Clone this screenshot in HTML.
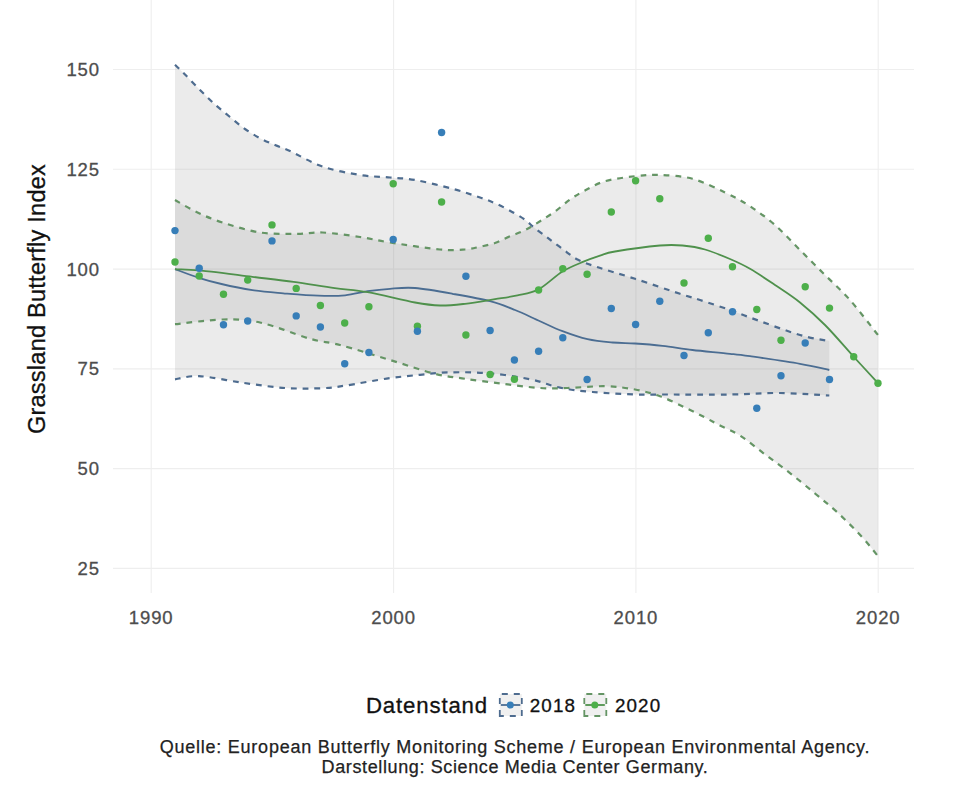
<!DOCTYPE html>
<html><head><meta charset="utf-8"><style>
html,body{margin:0;padding:0;background:#fff;width:971px;height:800px;overflow:hidden;position:relative;font-family:"Liberation Sans",sans-serif;}
.yl{position:absolute;right:871px;font-size:18.5px;color:#4d4d4d;line-height:1;letter-spacing:0.9px;white-space:nowrap;-webkit-text-stroke:0.3px #4d4d4d}
.xl{position:absolute;font-size:18.5px;color:#4d4d4d;line-height:1;letter-spacing:0.9px;white-space:nowrap;width:80px;text-align:center;-webkit-text-stroke:0.3px #4d4d4d}
</style></head><body>
<svg width="971" height="800" style="position:absolute;left:0;top:0"><line x1="113" y1="69.5" x2="914" y2="69.5" stroke="#eeeeee" stroke-width="1.1"/><line x1="113" y1="169.3" x2="914" y2="169.3" stroke="#eeeeee" stroke-width="1.1"/><line x1="113" y1="269.1" x2="914" y2="269.1" stroke="#eeeeee" stroke-width="1.1"/><line x1="113" y1="368.9" x2="914" y2="368.9" stroke="#eeeeee" stroke-width="1.1"/><line x1="113" y1="468.6" x2="914" y2="468.6" stroke="#eeeeee" stroke-width="1.1"/><line x1="113" y1="568.4" x2="914" y2="568.4" stroke="#eeeeee" stroke-width="1.1"/><line x1="151.2" y1="0" x2="151.2" y2="593" stroke="#eeeeee" stroke-width="1.1"/><line x1="393.6" y1="0" x2="393.6" y2="593" stroke="#eeeeee" stroke-width="1.1"/><line x1="635.9" y1="0" x2="635.9" y2="593" stroke="#eeeeee" stroke-width="1.1"/><line x1="878.2" y1="0" x2="878.2" y2="593" stroke="#eeeeee" stroke-width="1.1"/><path d="M175.0,64.7 C176.7,66.3 180.8,70.3 185.0,74.5 C189.2,78.7 195.0,85.0 200.0,90.0 C205.0,95.0 210.0,100.0 215.0,104.5 C220.0,109.0 225.0,112.9 230.0,117.0 C235.0,121.1 240.0,125.5 245.0,129.0 C250.0,132.5 255.0,135.5 260.0,138.2 C265.0,140.9 270.0,142.9 275.0,145.0 C280.0,147.1 282.1,147.4 290.0,151.0 C297.9,154.6 310.8,162.5 322.5,166.5 C334.2,170.5 348.8,173.2 360.0,175.0 C371.2,176.8 380.8,176.7 390.0,177.5 C399.2,178.3 404.6,178.1 415.0,180.0 C425.4,181.9 441.4,185.8 452.5,188.8 C463.6,191.8 474.4,195.6 481.5,198.0 C488.6,200.4 490.2,201.1 495.0,203.2 C499.8,205.3 505.0,207.9 510.0,210.7 C515.0,213.4 521.0,216.9 525.0,219.7 C529.0,222.5 530.2,224.5 534.0,227.5 C537.8,230.5 542.8,234.1 547.5,237.7 C552.2,241.3 557.5,245.4 562.5,249.0 C567.5,252.6 571.8,256.5 577.5,259.5 C583.2,262.5 587.4,263.8 597.0,267.0 C606.6,270.2 621.2,274.3 635.0,278.8 C648.8,283.2 669.2,290.2 680.0,293.8 C690.8,297.3 691.7,297.3 700.0,300.0 C708.3,302.7 721.7,307.1 730.0,310.0 C738.3,312.9 738.3,313.3 750.0,317.5 C761.7,321.7 786.8,331.1 800.0,335.0 C813.2,338.9 824.4,340.0 829.3,341.0 L829.3,395.5 C821.1,395.1 796.5,393.2 780.0,393.0 C763.5,392.8 748.8,394.2 730.0,394.5 C711.2,394.8 683.3,394.5 667.5,394.5 C651.7,394.5 647.5,394.9 635.0,394.5 C622.5,394.1 605.0,393.1 592.5,392.0 C580.0,390.9 570.3,389.8 560.0,387.7 C549.7,385.6 542.5,381.8 530.8,379.4 C519.1,377.0 503.3,374.5 489.6,373.3 C475.9,372.1 460.0,372.1 448.4,372.4 C436.8,372.6 430.3,373.8 420.0,374.8 C409.7,375.8 399.0,376.8 386.6,378.6 C374.2,380.4 356.1,384.0 345.4,385.6 C334.7,387.2 332.6,387.8 322.5,388.2 C312.4,388.6 298.4,388.9 285.0,388.0 C271.6,387.1 256.7,384.7 242.4,382.7 C228.1,380.7 210.2,376.7 199.0,376.1 C187.8,375.6 179.0,378.8 175.0,379.4 Z" fill="rgba(153,153,153,0.2)"/><path d="M175.0,200.0 C178.8,202.1 189.6,208.8 197.5,212.5 C205.4,216.2 212.1,219.2 222.5,222.5 C232.9,225.8 247.5,230.6 260.0,232.5 C272.5,234.4 287.1,233.8 297.5,233.8 C307.9,233.8 312.1,232.0 322.5,232.5 C332.9,233.0 348.8,235.3 360.0,237.0 C371.2,238.7 376.7,240.4 390.0,242.5 C403.3,244.6 427.5,248.3 440.0,249.5 C452.5,250.7 458.3,250.0 465.0,249.5 C471.7,249.0 475.0,247.8 480.0,246.7 C485.0,245.6 490.0,244.8 495.0,243.0 C500.0,241.2 505.0,238.3 510.0,236.2 C515.0,234.1 520.0,232.7 525.0,230.2 C530.0,227.7 535.0,224.3 540.0,221.2 C545.0,218.1 550.0,215.1 555.0,211.5 C560.0,207.9 565.0,203.0 570.0,199.5 C575.0,196.0 579.2,193.5 585.0,190.5 C590.8,187.5 596.7,183.6 605.0,181.2 C613.3,178.9 625.8,177.3 635.0,176.2 C644.2,175.2 650.4,174.6 660.0,175.0 C669.6,175.4 681.7,175.8 692.5,178.8 C703.3,181.7 715.4,187.9 725.0,192.5 C734.6,197.1 741.7,200.8 750.0,206.2 C758.3,211.7 766.7,217.7 775.0,225.0 C783.3,232.3 791.7,241.7 800.0,250.0 C808.3,258.3 816.7,266.7 825.0,275.0 C833.3,283.3 841.2,290.0 850.0,300.0 C858.8,310.0 873.3,329.2 878.0,335.0 L878.0,556.2 C875.4,553.1 869.2,544.8 862.5,537.5 C855.8,530.2 845.4,519.8 837.5,512.5 C829.6,505.2 822.9,500.1 815.0,493.5 C807.1,486.9 798.3,479.6 790.0,473.1 C781.7,466.6 773.3,460.6 765.0,454.4 C756.7,448.1 747.5,440.4 740.0,435.6 C732.5,430.8 725.8,428.5 720.0,425.5 C714.2,422.5 710.8,420.5 705.0,417.5 C699.2,414.5 692.5,411.0 685.0,407.5 C677.5,404.0 668.3,399.2 660.0,396.2 C651.7,393.2 644.2,391.2 635.0,389.5 C625.8,387.8 616.2,386.5 605.0,386.2 C593.8,386.0 578.3,387.7 567.5,388.0 C556.7,388.3 550.8,388.7 540.0,388.0 C529.2,387.3 515.0,385.3 502.5,383.8 C490.0,382.2 476.2,380.4 465.0,378.8 C453.8,377.1 447.5,376.9 435.0,373.8 C422.5,370.6 405.8,364.8 390.0,360.0 C374.2,355.2 353.3,348.5 340.0,345.0 C326.7,341.5 323.3,342.5 310.0,338.8 C296.7,335.0 274.6,325.7 260.0,322.5 C245.4,319.3 236.7,319.2 222.5,319.5 C208.3,319.8 182.9,323.5 175.0,324.2 Z" fill="rgba(153,153,153,0.2)"/><path d="M175.0,64.7 C176.7,66.3 180.8,70.3 185.0,74.5 C189.2,78.7 195.0,85.0 200.0,90.0 C205.0,95.0 210.0,100.0 215.0,104.5 C220.0,109.0 225.0,112.9 230.0,117.0 C235.0,121.1 240.0,125.5 245.0,129.0 C250.0,132.5 255.0,135.5 260.0,138.2 C265.0,140.9 270.0,142.9 275.0,145.0 C280.0,147.1 282.1,147.4 290.0,151.0 C297.9,154.6 310.8,162.5 322.5,166.5 C334.2,170.5 348.8,173.2 360.0,175.0 C371.2,176.8 380.8,176.7 390.0,177.5 C399.2,178.3 404.6,178.1 415.0,180.0 C425.4,181.9 441.4,185.8 452.5,188.8 C463.6,191.8 474.4,195.6 481.5,198.0 C488.6,200.4 490.2,201.1 495.0,203.2 C499.8,205.3 505.0,207.9 510.0,210.7 C515.0,213.4 521.0,216.9 525.0,219.7 C529.0,222.5 530.2,224.5 534.0,227.5 C537.8,230.5 542.8,234.1 547.5,237.7 C552.2,241.3 557.5,245.4 562.5,249.0 C567.5,252.6 571.8,256.5 577.5,259.5 C583.2,262.5 587.4,263.8 597.0,267.0 C606.6,270.2 621.2,274.3 635.0,278.8 C648.8,283.2 669.2,290.2 680.0,293.8 C690.8,297.3 691.7,297.3 700.0,300.0 C708.3,302.7 721.7,307.1 730.0,310.0 C738.3,312.9 738.3,313.3 750.0,317.5 C761.7,321.7 786.8,331.1 800.0,335.0 C813.2,338.9 824.4,340.0 829.3,341.0" fill="none" stroke="#4e6c8f" stroke-width="2.2" stroke-dasharray="5.8 5.9"/><path d="M175.0,379.4 C179.0,378.8 187.8,375.6 199.0,376.1 C210.2,376.7 228.1,380.7 242.4,382.7 C256.7,384.7 271.6,387.1 285.0,388.0 C298.4,388.9 312.4,388.6 322.5,388.2 C332.6,387.8 334.7,387.2 345.4,385.6 C356.1,384.0 374.2,380.4 386.6,378.6 C399.0,376.8 409.7,375.8 420.0,374.8 C430.3,373.8 436.8,372.6 448.4,372.4 C460.0,372.1 475.9,372.1 489.6,373.3 C503.3,374.5 519.1,377.0 530.8,379.4 C542.5,381.8 549.7,385.6 560.0,387.7 C570.3,389.8 580.0,390.9 592.5,392.0 C605.0,393.1 622.5,394.1 635.0,394.5 C647.5,394.9 651.7,394.5 667.5,394.5 C683.3,394.5 711.2,394.8 730.0,394.5 C748.8,394.2 763.5,392.8 780.0,393.0 C796.5,393.2 821.1,395.1 829.3,395.5" fill="none" stroke="#4e6c8f" stroke-width="2.2" stroke-dasharray="5.8 5.9"/><path d="M175.0,200.0 C178.8,202.1 189.6,208.8 197.5,212.5 C205.4,216.2 212.1,219.2 222.5,222.5 C232.9,225.8 247.5,230.6 260.0,232.5 C272.5,234.4 287.1,233.8 297.5,233.8 C307.9,233.8 312.1,232.0 322.5,232.5 C332.9,233.0 348.8,235.3 360.0,237.0 C371.2,238.7 376.7,240.4 390.0,242.5 C403.3,244.6 427.5,248.3 440.0,249.5 C452.5,250.7 458.3,250.0 465.0,249.5 C471.7,249.0 475.0,247.8 480.0,246.7 C485.0,245.6 490.0,244.8 495.0,243.0 C500.0,241.2 505.0,238.3 510.0,236.2 C515.0,234.1 520.0,232.7 525.0,230.2 C530.0,227.7 535.0,224.3 540.0,221.2 C545.0,218.1 550.0,215.1 555.0,211.5 C560.0,207.9 565.0,203.0 570.0,199.5 C575.0,196.0 579.2,193.5 585.0,190.5 C590.8,187.5 596.7,183.6 605.0,181.2 C613.3,178.9 625.8,177.3 635.0,176.2 C644.2,175.2 650.4,174.6 660.0,175.0 C669.6,175.4 681.7,175.8 692.5,178.8 C703.3,181.7 715.4,187.9 725.0,192.5 C734.6,197.1 741.7,200.8 750.0,206.2 C758.3,211.7 766.7,217.7 775.0,225.0 C783.3,232.3 791.7,241.7 800.0,250.0 C808.3,258.3 816.7,266.7 825.0,275.0 C833.3,283.3 841.2,290.0 850.0,300.0 C858.8,310.0 873.3,329.2 878.0,335.0" fill="none" stroke="#659565" stroke-width="2.2" stroke-dasharray="5.8 5.9"/><path d="M175.0,324.2 C182.9,323.5 208.3,319.8 222.5,319.5 C236.7,319.2 245.4,319.3 260.0,322.5 C274.6,325.7 296.7,335.0 310.0,338.8 C323.3,342.5 326.7,341.5 340.0,345.0 C353.3,348.5 374.2,355.2 390.0,360.0 C405.8,364.8 422.5,370.6 435.0,373.8 C447.5,376.9 453.8,377.1 465.0,378.8 C476.2,380.4 490.0,382.2 502.5,383.8 C515.0,385.3 529.2,387.3 540.0,388.0 C550.8,388.7 556.7,388.3 567.5,388.0 C578.3,387.7 593.8,386.0 605.0,386.2 C616.2,386.5 625.8,387.8 635.0,389.5 C644.2,391.2 651.7,393.2 660.0,396.2 C668.3,399.2 677.5,404.0 685.0,407.5 C692.5,411.0 699.2,414.5 705.0,417.5 C710.8,420.5 714.2,422.5 720.0,425.5 C725.8,428.5 732.5,430.8 740.0,435.6 C747.5,440.4 756.7,448.1 765.0,454.4 C773.3,460.6 781.7,466.6 790.0,473.1 C798.3,479.6 807.1,486.9 815.0,493.5 C822.9,500.1 829.6,505.2 837.5,512.5 C845.4,519.8 855.8,530.2 862.5,537.5 C869.2,544.8 875.4,553.1 878.0,556.2" fill="none" stroke="#659565" stroke-width="2.2" stroke-dasharray="5.8 5.9"/><path d="M175.0,269.1 C179.0,270.6 191.1,275.3 198.8,277.8 C206.6,280.3 212.6,281.9 221.5,284.0 C230.4,286.1 242.1,288.6 252.4,290.2 C262.7,291.8 272.3,292.4 283.3,293.3 C294.3,294.2 308.0,295.4 318.3,295.7 C328.6,296.0 336.9,296.1 345.1,295.3 C353.3,294.6 360.2,292.3 367.7,291.2 C375.2,290.1 382.1,289.3 390.0,288.8 C397.9,288.2 404.6,287.2 415.0,288.0 C425.4,288.8 440.0,291.5 452.5,293.8 C465.0,296.0 479.6,298.5 490.0,301.2 C500.4,304.0 506.7,306.7 515.0,310.0 C523.3,313.3 532.1,317.7 540.0,321.2 C547.9,324.8 554.6,328.3 562.5,331.2 C570.4,334.2 579.2,337.3 587.5,339.2 C595.8,341.1 604.6,341.8 612.5,342.5 C620.4,343.2 626.7,343.0 635.0,343.5 C643.3,344.0 652.9,344.7 662.5,345.8 C672.1,346.8 681.2,348.7 692.5,350.0 C703.8,351.3 720.4,352.7 730.0,353.8 C739.6,354.8 738.3,354.6 750.0,356.2 C761.7,357.9 786.8,361.5 800.0,363.8 C813.2,366.0 824.4,369.0 829.3,370.0" fill="none" stroke="#4b6d92" stroke-width="1.8"/><path d="M175.0,269.1 C181.0,269.5 198.3,270.3 211.2,271.6 C224.1,272.9 238.7,275.1 252.4,276.8 C266.1,278.5 279.9,280.0 293.6,281.9 C307.3,283.8 322.5,286.4 334.8,288.1 C347.1,289.8 354.3,289.8 367.7,292.2 C381.1,294.6 402.9,300.3 415.0,302.5 C427.1,304.7 431.7,305.3 440.0,305.5 C448.3,305.7 455.8,304.8 465.0,303.8 C474.2,302.7 486.2,300.6 495.0,299.2 C503.8,297.8 510.2,297.0 517.5,295.4 C524.8,293.8 531.0,293.4 538.5,289.4 C546.0,285.4 555.0,276.1 562.5,271.5 C570.0,266.9 577.2,264.3 583.5,261.7 C589.8,259.1 594.8,257.4 600.0,255.7 C605.2,254.0 605.0,253.2 615.0,251.5 C625.0,249.8 648.8,246.5 660.0,245.5 C671.2,244.5 675.0,244.8 682.5,245.5 C690.0,246.2 697.1,247.2 705.0,249.5 C712.9,251.8 722.5,255.8 730.0,259.0 C737.5,262.2 742.5,264.4 750.0,268.8 C757.5,273.1 766.7,279.4 775.0,285.0 C783.3,290.6 791.7,295.8 800.0,302.5 C808.3,309.2 816.0,316.0 825.0,325.0 C834.0,334.0 844.9,347.0 853.8,356.8 C862.6,366.5 874.0,378.8 878.0,383.2" fill="none" stroke="#4f914c" stroke-width="1.8"/><circle cx="175.0" cy="262" r="3.7" fill="#4daf4a"/><circle cx="199.2" cy="276" r="3.7" fill="#4daf4a"/><circle cx="223.5" cy="294.3" r="3.7" fill="#4daf4a"/><circle cx="247.7" cy="280.1" r="3.7" fill="#4daf4a"/><circle cx="272.0" cy="224.9" r="3.7" fill="#4daf4a"/><circle cx="296.2" cy="288.4" r="3.7" fill="#4daf4a"/><circle cx="320.4" cy="305.5" r="3.7" fill="#4daf4a"/><circle cx="344.7" cy="323" r="3.7" fill="#4daf4a"/><circle cx="368.9" cy="306.75" r="3.7" fill="#4daf4a"/><circle cx="393.2" cy="183.75" r="3.7" fill="#4daf4a"/><circle cx="417.4" cy="326.25" r="3.7" fill="#4daf4a"/><circle cx="441.6" cy="202" r="3.7" fill="#4daf4a"/><circle cx="465.9" cy="335" r="3.7" fill="#4daf4a"/><circle cx="490.1" cy="374.5" r="3.7" fill="#4daf4a"/><circle cx="514.4" cy="379.25" r="3.7" fill="#4daf4a"/><circle cx="538.6" cy="290" r="3.7" fill="#4daf4a"/><circle cx="562.8" cy="268.75" r="3.7" fill="#4daf4a"/><circle cx="587.1" cy="274.25" r="3.7" fill="#4daf4a"/><circle cx="611.3" cy="212" r="3.7" fill="#4daf4a"/><circle cx="635.6" cy="180.75" r="3.7" fill="#4daf4a"/><circle cx="659.8" cy="198.75" r="3.7" fill="#4daf4a"/><circle cx="684.0" cy="283" r="3.7" fill="#4daf4a"/><circle cx="708.3" cy="238.25" r="3.7" fill="#4daf4a"/><circle cx="732.5" cy="266.75" r="3.7" fill="#4daf4a"/><circle cx="756.8" cy="309.5" r="3.7" fill="#4daf4a"/><circle cx="781.0" cy="340.25" r="3.7" fill="#4daf4a"/><circle cx="805.2" cy="286.75" r="3.7" fill="#4daf4a"/><circle cx="829.5" cy="308.1" r="3.7" fill="#4daf4a"/><circle cx="853.7" cy="356.75" r="3.7" fill="#4daf4a"/><circle cx="878.0" cy="383.25" r="3.7" fill="#4daf4a"/><circle cx="175.0" cy="230.6" r="3.7" fill="#377eb8"/><circle cx="199.2" cy="268.2" r="3.7" fill="#377eb8"/><circle cx="223.5" cy="324.7" r="3.7" fill="#377eb8"/><circle cx="247.7" cy="321" r="3.7" fill="#377eb8"/><circle cx="272.0" cy="240.9" r="3.7" fill="#377eb8"/><circle cx="296.2" cy="315.9" r="3.7" fill="#377eb8"/><circle cx="320.4" cy="327" r="3.7" fill="#377eb8"/><circle cx="344.7" cy="363.75" r="3.7" fill="#377eb8"/><circle cx="368.9" cy="352.5" r="3.7" fill="#377eb8"/><circle cx="393.2" cy="239.5" r="3.7" fill="#377eb8"/><circle cx="417.4" cy="331.25" r="3.7" fill="#377eb8"/><circle cx="441.6" cy="132.5" r="3.7" fill="#377eb8"/><circle cx="465.9" cy="276.25" r="3.7" fill="#377eb8"/><circle cx="490.1" cy="330.5" r="3.7" fill="#377eb8"/><circle cx="514.4" cy="360" r="3.7" fill="#377eb8"/><circle cx="538.6" cy="351.25" r="3.7" fill="#377eb8"/><circle cx="562.8" cy="337.8" r="3.7" fill="#377eb8"/><circle cx="587.1" cy="379.5" r="3.7" fill="#377eb8"/><circle cx="611.3" cy="308.5" r="3.7" fill="#377eb8"/><circle cx="635.6" cy="324.5" r="3.7" fill="#377eb8"/><circle cx="659.8" cy="301.25" r="3.7" fill="#377eb8"/><circle cx="684.0" cy="355.5" r="3.7" fill="#377eb8"/><circle cx="708.3" cy="332.75" r="3.7" fill="#377eb8"/><circle cx="732.5" cy="311.75" r="3.7" fill="#377eb8"/><circle cx="756.8" cy="408.25" r="3.7" fill="#377eb8"/><circle cx="781.0" cy="375.75" r="3.7" fill="#377eb8"/><circle cx="805.2" cy="343" r="3.7" fill="#377eb8"/><circle cx="829.5" cy="379.5" r="3.7" fill="#377eb8"/><g transform="translate(499.3,693.5)"><rect x="0.5" y="0.5" width="22" height="22" fill="rgba(153,153,153,0.15)"/><path d="M0.5,22.5 L0.5,0.5 L22.5,0.5 L22.5,22.5 Z" fill="none" stroke="#4e6c8f" stroke-width="1.8" stroke-dasharray="6 6"/><line x1="1.5" y1="11.5" x2="21" y2="11.5" stroke="#4b6d92" stroke-width="1.8"/><circle cx="11" cy="11.5" r="3.5" fill="#377eb8"/></g><g transform="translate(583.8,693.5)"><rect x="0.5" y="0.5" width="22" height="22" fill="rgba(153,153,153,0.15)"/><path d="M0.5,22.5 L0.5,0.5 L22.5,0.5 L22.5,22.5 Z" fill="none" stroke="#659565" stroke-width="1.8" stroke-dasharray="6 6"/><line x1="1.5" y1="11.5" x2="21" y2="11.5" stroke="#4f914c" stroke-width="1.8"/><circle cx="11" cy="11.5" r="3.5" fill="#4daf4a"/></g></svg>
<div class="yl" style="top:61.0px">150</div>
<div class="yl" style="top:160.8px">125</div>
<div class="yl" style="top:260.6px">100</div>
<div class="yl" style="top:360.4px">75</div>
<div class="yl" style="top:460.1px">50</div>
<div class="yl" style="top:559.9px">25</div>
<div class="xl" style="left:111.2px;top:609px">1990</div>
<div class="xl" style="left:353.6px;top:609px">2000</div>
<div class="xl" style="left:595.9px;top:609px">2010</div>
<div class="xl" style="left:838.2px;top:609px">2020</div>
<div style="position:absolute;left:38px;top:299px;width:0;height:0"><div style="position:absolute;left:0;top:0;transform:translate(-50%,-50%) rotate(-90deg);font-size:23.5px;color:#111;letter-spacing:0.25px;-webkit-text-stroke:0.3px #111;white-space:nowrap;line-height:1;">Grassland Butterfly Index</div></div>
<div style="position:absolute;left:366px;top:694.5px;font-size:22.2px;color:#111;letter-spacing:0.85px;-webkit-text-stroke:0.3px #111;line-height:1;white-space:nowrap">Datenstand</div>
<div style="position:absolute;left:529.8px;top:697px;font-size:18.8px;color:#111;letter-spacing:1.1px;-webkit-text-stroke:0.3px #111;line-height:1;white-space:nowrap">2018</div>
<div style="position:absolute;left:615px;top:697px;font-size:18.8px;color:#111;letter-spacing:1.1px;-webkit-text-stroke:0.3px #111;line-height:1;white-space:nowrap">2020</div>
<div style="position:absolute;left:0;width:1030px;top:737px;font-size:18px;color:#222;letter-spacing:0.76px;line-height:20.5px;-webkit-text-stroke:0.25px #222;text-align:center;white-space:nowrap">Quelle: European Butterfly Monitoring Scheme / European Environmental Agency.</div>
<div style="position:absolute;left:0;width:1030px;top:756.5px;font-size:18px;color:#222;letter-spacing:0.62px;line-height:20.5px;-webkit-text-stroke:0.25px #222;text-align:center;white-space:nowrap">Darstellung: Science Media Center Germany.</div>
</body></html>
